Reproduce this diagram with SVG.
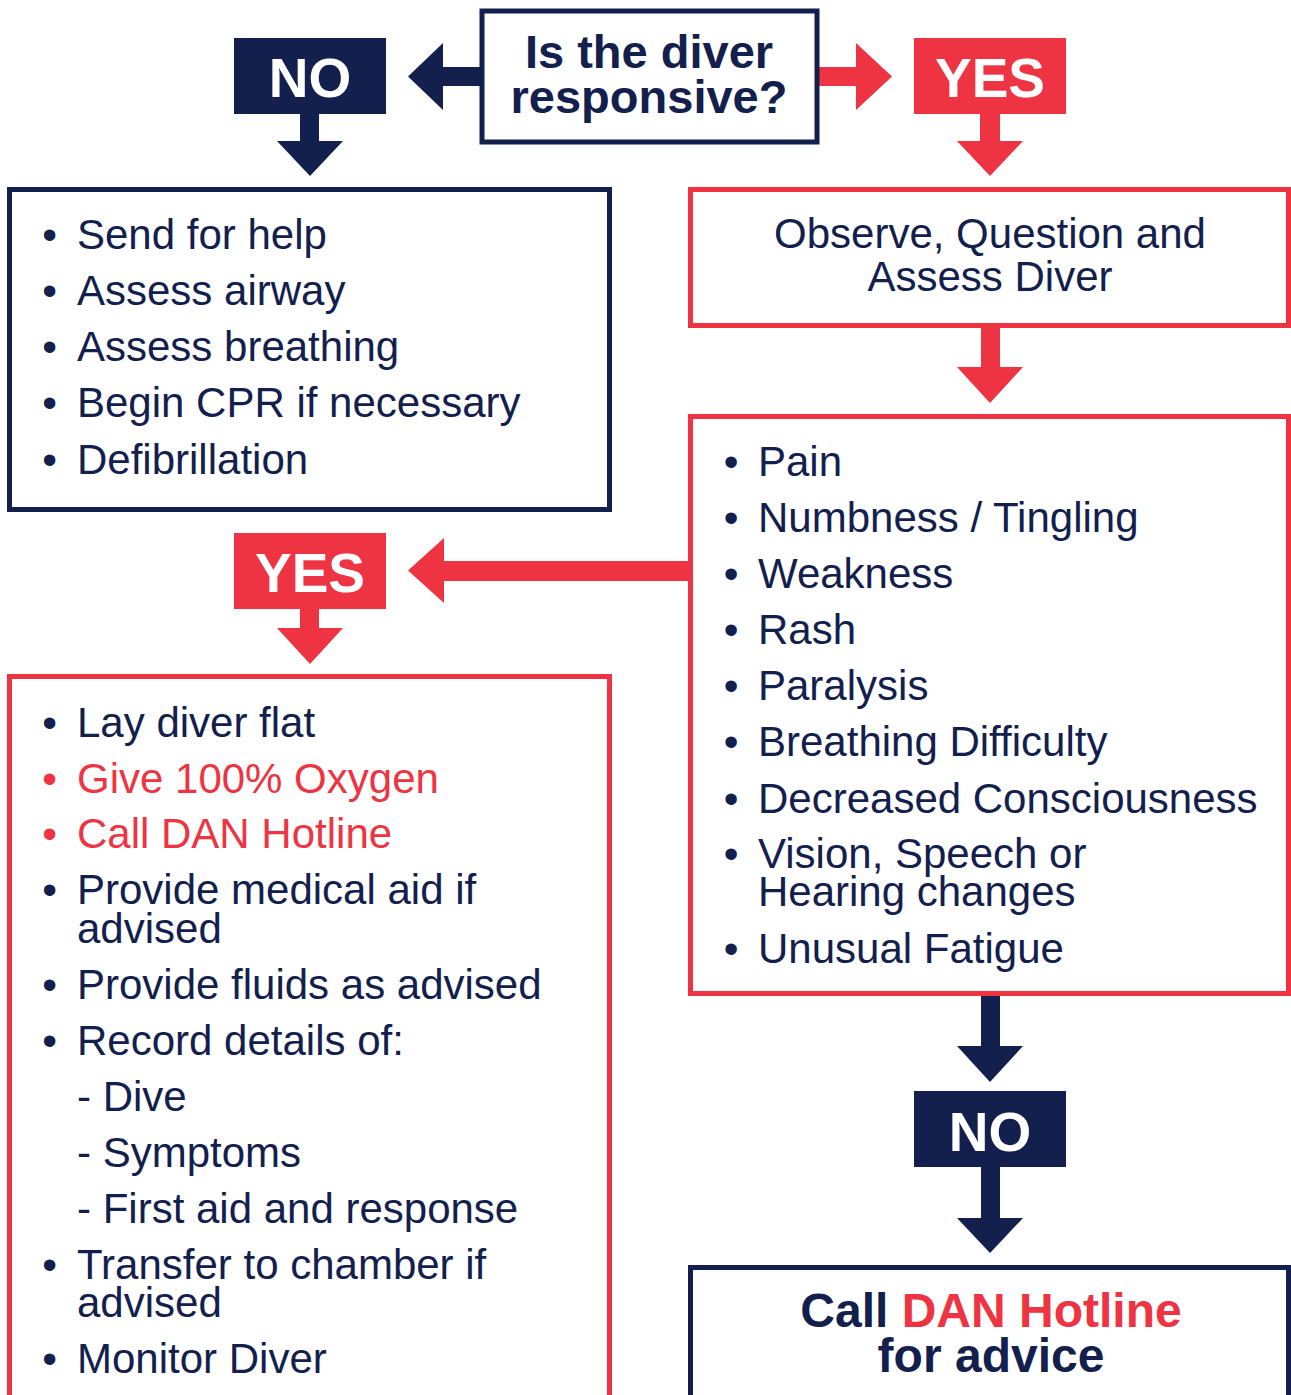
<svg xmlns="http://www.w3.org/2000/svg" width="1291" height="1395" viewBox="0 0 1291 1395">
<style>
  text { font-family: "Liberation Sans", Arial, Helvetica, sans-serif; }
  .navy { fill: #13204d; }
  .red { fill: #ee3442; }
  .boxN { fill: #ffffff; stroke: #13204d; stroke-width: 5; }
  .boxR { fill: #ffffff; stroke: #ee3442; stroke-width: 5; }
  .lbl { font-weight: bold; font-size: 55px; fill: #ffffff; text-anchor: middle; }
  .body { font-size: 42px; fill: #13204d; }
  .bodyR { font-size: 42px; fill: #ee3442; }
  .bul { font-size: 42px; text-anchor: middle; }
  .title { font-weight: bold; font-size: 47px; fill: #13204d; text-anchor: middle; }
</style>
<rect width="1291" height="1395" fill="#ffffff"/>

<g id="connectors">
  <polygon class="navy" points="481,67 443,67 443,43 408,76.5 443,110 443,86 481,86"/>
  <polygon class="red" points="817,67 856,67 856,43 892,76.5 856,110 856,86 817,86"/>
  <polygon class="navy" points="300,112 319,112 319,141 343,141 310,176 277,141 300,141"/>
  <polygon class="red" points="980,112 1000,112 1000,141 1023,141 990,176 957,141 980,141"/>
  <polygon class="red" points="981,326 1000,326 1000,367 1023,367 990,403 957,367 981,367"/>
  <polygon class="red" points="690,561 444,561 444,538 408,570.5 444,603 444,581 690,581"/>
  <polygon class="red" points="300,607 319,607 319,628 343,628 310,664 277,628 300,628"/>
  <polygon class="navy" points="981,994 1000,994 1000,1046 1023,1046 990,1082 957,1046 981,1046"/>
  <polygon class="navy" points="981,1165 1000,1165 1000,1218 1023,1218 990,1253 957,1218 981,1218"/>
</g>

<g id="question">
  <rect class="boxN" x="482" y="11" width="335" height="131"/>
  <text class="title" x="649" y="68">Is the diver</text>
  <text class="title" x="649" y="113">responsive?</text>
</g>

<g id="no1">
  <rect class="navy" x="234" y="38" width="152" height="76"/>
  <text class="lbl" x="310" y="97">NO</text>
</g>

<g id="yes1">
  <rect class="red" x="914" y="38" width="152" height="76"/>
  <text class="lbl" x="990" y="97">YES</text>
</g>

<g id="unresponsive-actions">
  <rect class="boxN" x="9.5" y="189.5" width="600" height="320"/>
  <g class="navy">
    <text class="bul" x="49.5" y="249">•</text>
    <text class="bul" x="49.5" y="305">•</text>
    <text class="bul" x="49.5" y="361">•</text>
    <text class="bul" x="49.5" y="417">•</text>
    <text class="bul" x="49.5" y="474">•</text>
  </g>
  <text class="body" x="77" y="249">Send for help</text>
  <text class="body" x="77" y="305">Assess airway</text>
  <text class="body" x="77" y="361">Assess breathing</text>
  <text class="body" x="77" y="417">Begin CPR if necessary</text>
  <text class="body" x="77" y="474">Defibrillation</text>
</g>

<g id="observe">
  <rect class="boxR" x="690.5" y="189.5" width="598" height="136"/>
  <text class="body" x="990" y="248" text-anchor="middle">Observe, Question and</text>
  <text class="body" x="990" y="291" text-anchor="middle">Assess Diver</text>
</g>

<g id="symptoms">
  <rect class="boxR" x="690.5" y="416.5" width="598" height="577"/>
  <g class="navy">
    <text class="bul" x="731" y="476">•</text>
    <text class="bul" x="731" y="532">•</text>
    <text class="bul" x="731" y="588">•</text>
    <text class="bul" x="731" y="644">•</text>
    <text class="bul" x="731" y="700">•</text>
    <text class="bul" x="731" y="756">•</text>
    <text class="bul" x="731" y="813">•</text>
    <text class="bul" x="731" y="868">•</text>
    <text class="bul" x="731" y="963">•</text>
  </g>
  <text class="body" x="758" y="476">Pain</text>
  <text class="body" x="758" y="532">Numbness / Tingling</text>
  <text class="body" x="758" y="588">Weakness</text>
  <text class="body" x="758" y="644">Rash</text>
  <text class="body" x="758" y="700">Paralysis</text>
  <text class="body" x="758" y="756">Breathing Difficulty</text>
  <text class="body" x="758" y="813">Decreased Consciousness</text>
  <text class="body" x="758" y="868">Vision, Speech or</text>
  <text class="body" x="758" y="906">Hearing changes</text>
  <text class="body" x="758" y="963">Unusual Fatigue</text>
</g>

<g id="yes2">
  <rect class="red" x="234" y="533" width="152" height="76"/>
  <text class="lbl" x="310" y="592">YES</text>
</g>

<g id="symptom-actions">
  <rect class="boxR" x="9.5" y="676.5" width="600" height="740"/>
  <g class="navy">
    <text class="bul" x="49.5" y="737">•</text>
    <text class="bul" x="49.5" y="904">•</text>
    <text class="bul" x="49.5" y="999">•</text>
    <text class="bul" x="49.5" y="1055">•</text>
    <text class="bul" x="49.5" y="1279">•</text>
    <text class="bul" x="49.5" y="1373">•</text>
  </g>
  <g class="red">
    <text class="bul" x="49.5" y="793">•</text>
    <text class="bul" x="49.5" y="848">•</text>
  </g>
  <text class="body" x="77" y="737">Lay diver flat</text>
  <text class="bodyR" x="77" y="793">Give 100% Oxygen</text>
  <text class="bodyR" x="77" y="848">Call DAN Hotline</text>
  <text class="body" x="77" y="904">Provide medical aid if</text>
  <text class="body" x="77" y="943">advised</text>
  <text class="body" x="77" y="999">Provide fluids as advised</text>
  <text class="body" x="77" y="1055">Record details of:</text>
  <text class="body" x="77" y="1111">- Dive</text>
  <text class="body" x="77" y="1167">- Symptoms</text>
  <text class="body" x="77" y="1223">- First aid and response</text>
  <text class="body" x="77" y="1279">Transfer to chamber if</text>
  <text class="body" x="77" y="1317">advised</text>
  <text class="body" x="77" y="1373">Monitor Diver</text>
</g>

<g id="no2">
  <rect class="navy" x="914" y="1091" width="152" height="76"/>
  <text class="lbl" x="990" y="1151">NO</text>
</g>

<g id="call-dan">
  <rect class="boxN" x="690.5" y="1267.5" width="598" height="150"/>
  <text x="991" y="1327" text-anchor="middle" font-weight="bold" font-size="48" fill="#13204d">Call <tspan fill="#ee3442">DAN Hotline</tspan></text>
  <text x="991" y="1372" text-anchor="middle" font-weight="bold" font-size="48" fill="#13204d">for advice</text>
</g>
</svg>
